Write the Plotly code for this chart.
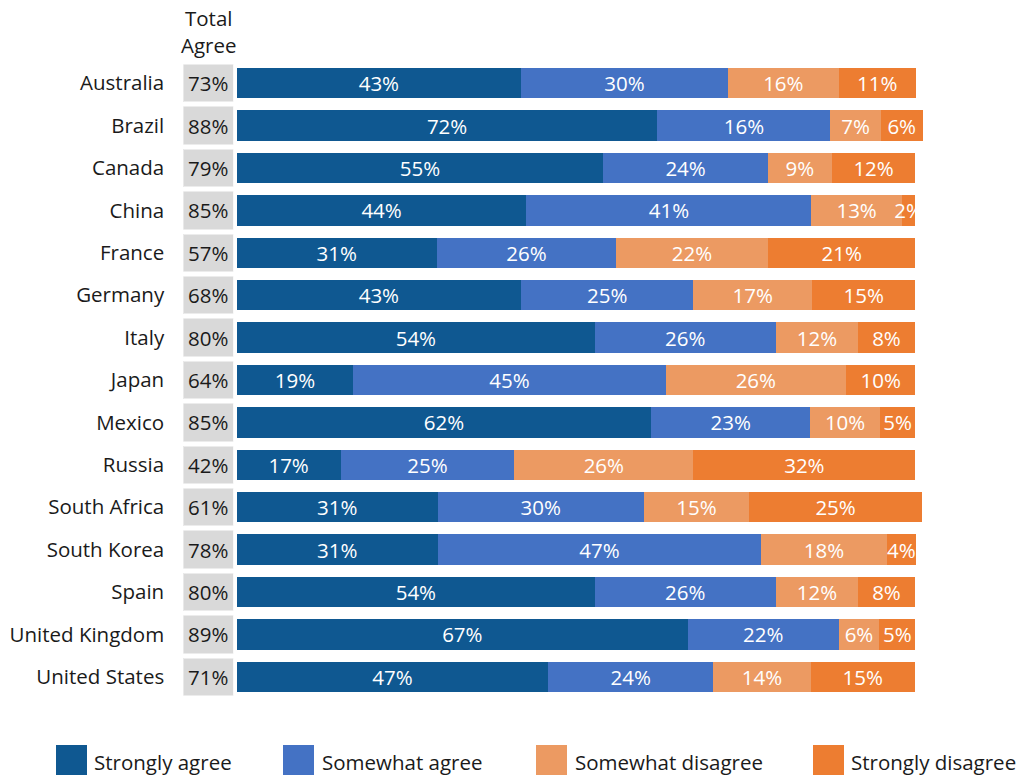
import plotly.graph_objects as go

countries = ["Australia", "Brazil", "Canada", "China", "France", "Germany", "Italy",
             "Japan", "Mexico", "Russia", "South Africa", "South Korea", "Spain",
             "United Kingdom", "United States"]
total_agree = [73, 88, 79, 85, 57, 68, 80, 64, 85, 42, 61, 78, 80, 89, 71]

# printed labels
strongly_agree_lbl = [43, 72, 55, 44, 31, 43, 54, 19, 62, 17, 31, 31, 54, 67, 47]
somewhat_agree_lbl = [30, 16, 24, 41, 26, 25, 26, 45, 23, 25, 30, 47, 26, 22, 24]
somewhat_disagree_lbl = [16, 7, 9, 13, 22, 17, 12, 26, 10, 26, 15, 18, 12, 6, 14]
strongly_disagree_lbl = [11, 6, 12, 2, 21, 15, 8, 10, 5, 32, 25, 4, 8, 5, 15]

# bar lengths as drawn in the picture
strongly_agree = [41.9, 62.0, 54.0, 42.7, 29.5, 41.9, 52.8, 17.2, 61.1, 15.3, 29.6, 29.6, 52.8, 66.5, 45.9]
somewhat_agree = [30.5, 25.5, 24.3, 42.0, 26.4, 25.4, 26.6, 46.0, 23.4, 25.6, 30.4, 47.7, 26.6, 22.2, 24.3]
somewhat_disagree = [16.3, 7.4, 9.4, 13.3, 22.4, 17.5, 12.2, 26.6, 10.3, 26.4, 15.5, 18.5, 12.2, 6.0, 14.4]
strongly_disagree = [11.4, 6.2, 12.3, 2.0, 21.7, 15.2, 8.3, 10.2, 5.2, 32.7, 25.5, 4.3, 8.3, 5.3, 15.3]

series_names = ["Strongly agree", "Somewhat agree", "Somewhat disagree", "Strongly disagree"]
series_vals = [strongly_agree, somewhat_agree, somewhat_disagree, strongly_disagree]
series_lbls = [strongly_agree_lbl, somewhat_agree_lbl, somewhat_disagree_lbl, strongly_disagree_lbl]
colors = ["#0F5891", "#4472C4", "#EC9A62", "#ED7D31"]

FONT = "Open Sans"
FS = 20.5
W, H = 1025, 775
mt, mb = 62, 77
plot_h = H - mt - mb

fig = go.Figure()

# Total agree boxes
fig.add_trace(go.Bar(
    y=countries, x=[1] * len(countries), orientation="h",
    xaxis="x2", yaxis="y", width=0.88,
    marker=dict(color="#D9D9D9", line=dict(color="#ECECEC", width=1)),
    text=[f"{v}%" for v in total_agree], textposition="inside",
    insidetextanchor="middle", textangle=0,
    textfont=dict(family=FONT, size=FS, color="#1A1A1A"),
    showlegend=False, hoverinfo="skip",
))

for name, vals, lbls, col in zip(series_names, series_vals, series_lbls, colors):
    fig.add_trace(go.Bar(
        y=countries, x=vals, orientation="h", name=name, width=0.72,
        marker=dict(color=col, line=dict(width=0)),
        text=[f"{v}%" for v in lbls], textposition="inside",
        insidetextanchor="middle", textangle=0, constraintext="none",
        textfont=dict(family=FONT, size=FS, color="white"),
        showlegend=False,
    ))

# custom legend (large squares)
legend_items = [(56, 92), (283, 320), (536, 573), (813, 849)]
def py(p):
    return (H - mb - p) / plot_h

shapes = []
annotations = []
for (sx, tx), name, col in zip(legend_items, series_names, colors):
    shapes.append(dict(type="rect", xref="paper", yref="paper",
                       x0=sx / W, x1=(sx + 31) / W, y0=py(776), y1=py(745),
                       fillcolor=col, line=dict(width=0)))
    annotations.append(dict(xref="paper", yref="paper", x=tx / W, y=py(762),
                            xanchor="left", yanchor="middle", text=name,
                            showarrow=False,
                            font=dict(family=FONT, size=FS, color="#1A1A1A")))

annotations.append(dict(xref="paper", yref="paper", x=208.5 / W, y=py(32),
                        xanchor="center", yanchor="middle", text="Total<br>Agree",
                        showarrow=False,
                        font=dict(family=FONT, size=FS, color="#1A1A1A")))

fig.update_layout(
    width=W, height=H,
    margin=dict(l=0, r=0, t=mt, b=mb),
    barmode="stack",
    plot_bgcolor="white", paper_bgcolor="white",
    uniformtext=dict(minsize=FS, mode="show"),
    xaxis=dict(domain=[236.7 / W, 1.0], range=[0, (W - 236.7) / 6.786],
               visible=False, showgrid=False, zeroline=False),
    xaxis2=dict(domain=[183.3 / W, 233.3 / W], range=[0, 1], anchor="y",
                visible=False, showgrid=False, zeroline=False),
    yaxis=dict(categoryorder="array", categoryarray=countries,
               autorange="reversed", anchor="x2",
               showgrid=False, zeroline=False, showline=False,
               ticks="outside", ticklen=14, tickcolor="rgba(0,0,0,0)",
               tickfont=dict(family=FONT, size=FS, color="#1A1A1A")),
    shapes=shapes,
    annotations=annotations,
    font=dict(family=FONT),
)

fig.write_html(
    "out.html",
    config={"displayModeBar": False},
    post_script="document.body.style.margin='0';document.body.style.overflow='hidden';",
)
